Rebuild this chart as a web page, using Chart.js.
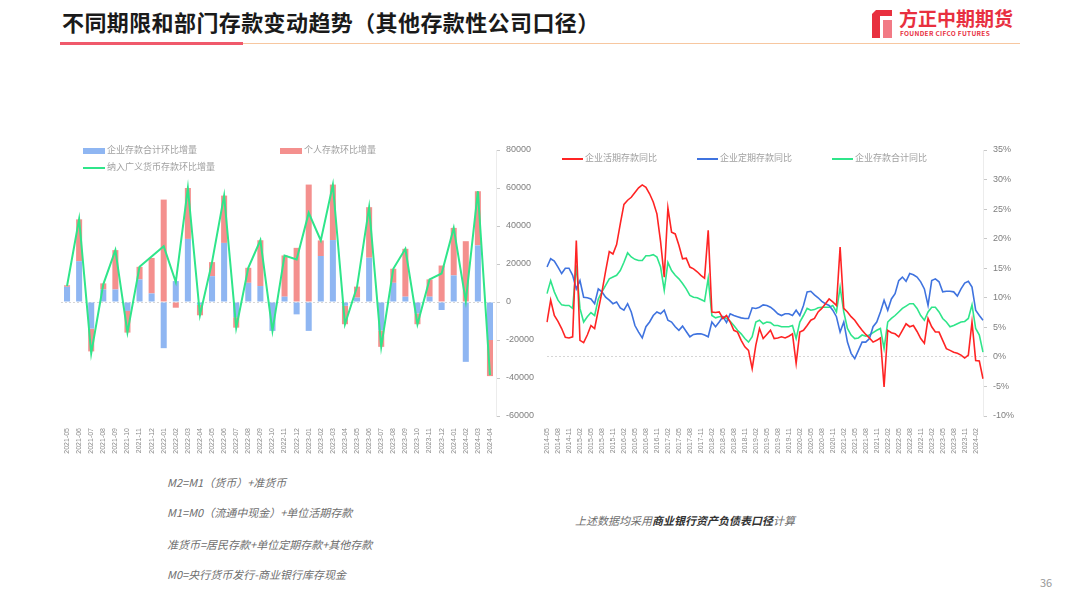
<!DOCTYPE html>
<html>
<head>
<meta charset="utf-8">
<script src="https://cdn.jsdelivr.net/npm/chart.js@4.4.1/dist/chart.umd.min.js"></script>
<style>
  body { margin: 0; width: 1080px; height: 608px; background: #fff; position: relative; overflow: hidden;
         font-family: "Noto Sans CJK SC", "Noto Sans", sans-serif; }
  .abs { position: absolute; }
  #title { left: 62px; top: 5px; font-size: 22px; font-weight: bold; color: #1a1a1a; letter-spacing: 0.4px; }
  #lineRed { left: 60px; top: 42px; width: 183px; height: 3px; background: #f0596b; }
  #lineOrange { left: 243px; top: 43px; width: 777px; height: 1px; background: #f7c7a0; }
  #logoIcon { left: 870px; top: 8px; width: 24px; height: 32px; }
  #logoText { left: 899px; top: 4px; font-size: 19px; font-weight: bold; color: #e8303f; }
  #logoSub { left: 900px; top: 28px; font-size: 6.5px; font-weight: bold; color: #e8303f; letter-spacing: 0.3px; }
  .leg { font-size: 9px; color: #a0a0a0; white-space: nowrap; }
  .box { display: inline-block; }
  .note { left: 167px; font-size: 11px; color: #6e6e6e; font-style: italic; white-space: nowrap; }
  #note5 { left: 575px; top: 512px; font-size: 11px; color: #6e6e6e; font-style: italic; white-space: nowrap; }
  #note5 b { color: #333; }
  #page { left: 1040px; top: 574px; font-size: 11px; color: #999; }
  canvas { position: absolute; }
</style>
</head>
<body>
<div id="title" class="abs">不同期限和部门存款变动趋势（其他存款性公司口径）</div>
<div id="lineRed" class="abs"></div>
<div id="lineOrange" class="abs"></div>
<svg id="logoIcon" class="abs" viewBox="0 0 24 32">
  <path d="M6 2 L22 2 L22 8 L10 8 L10 30 L2 30 L2 6 Z" fill="#e8303f"/>
  <path d="M13 12 L22 12 L22 30 L13 30 Z" fill="#f27a85"/>
</svg>
<div id="logoText" class="abs">方正中期期货</div>
<div id="logoSub" class="abs">FOUNDER CIFCO FUTURES</div>

<canvas id="leftChart" width="490" height="340" style="left:55px;top:130px"></canvas>
<canvas id="rightChart" width="490" height="340" style="left:540px;top:130px"></canvas>

<!-- left legend -->
<div class="abs leg" style="left:83px;top:143px"><span class="box" style="width:22px;height:6px;background:#8fb6f2;vertical-align:middle"></span> 企业存款合计环比增量</div>
<div class="abs leg" style="left:280px;top:143px"><span class="box" style="width:22px;height:6px;background:#f4908e;vertical-align:middle"></span> 个人存款环比增量</div>
<div class="abs leg" style="left:83px;top:160px"><span class="box" style="width:22px;height:2px;background:#2fe58a;vertical-align:middle"></span> 纳入广义货币存款环比增量</div>
<!-- right legend -->
<div class="abs leg" style="left:562px;top:151px"><span class="box" style="width:21px;height:2px;background:#ff2424;vertical-align:middle"></span> 企业活期存款同比</div>
<div class="abs leg" style="left:697px;top:151px"><span class="box" style="width:21px;height:2px;background:#3f73df;vertical-align:middle"></span> 企业定期存款同比</div>
<div class="abs leg" style="left:832px;top:151px"><span class="box" style="width:21px;height:2px;background:#2fe58a;vertical-align:middle"></span> 企业存款合计同比</div>

<div class="abs note" style="top:474px">M2=M1（货币）+准货币</div>
<div class="abs note" style="top:504px">M1=M0（流通中现金）+单位活期存款</div>
<div class="abs note" style="top:536px">准货币=居民存款+单位定期存款+其他存款</div>
<div class="abs note" style="top:566px">M0=央行货币发行-商业银行库存现金</div>
<div id="note5" class="abs">上述数据均采用<b>商业银行资产负债表口径</b>计算</div>
<div id="page" class="abs">36</div>

<script>
// ---------- Left chart data (monthly change) ----------
const leftMonths = [
  '2021-05','2021-06','2021-07','2021-08','2021-09','2021-10','2021-11','2021-12',
  '2022-01','2022-02','2022-03','2022-04','2022-05','2022-06','2022-07','2022-08',
  '2022-09','2022-10','2022-11','2022-12','2023-01','2023-02','2023-03','2023-04',
  '2023-05','2023-06','2023-07','2023-08','2023-09','2023-10','2023-11','2023-12',
  '2024-01','2024-02','2024-03','2024-04'
];
const corpChange = [
  8000, 21500, -14000, 6600, 6600, -4700, 11900, 4500,
  -24300, 11000, 33200, -1500, 13600, 31100, -8000, 10100,
  8400, -15200, 2800, -6500, -15200, 24200, 32600, -2000,
  2300, 23300, -15000, 10100, 2800, -6000, 2800, -4200,
  14000, -31500, 29800, -20000
];
const personalChange = [
  800, 22000, -12000, 3200, 20700, -11400, 6600, 18700,
  53900, -3000, 26800, -5500, 7400, 24900, -5500, 7900,
  24100, 0, 21700, 28500, 61800, 8200, 29200, -9700,
  5800, 26600, -8600, 7400, 25200, -5700, 9100, 19200,
  25000, 32000, 28500, -19000
];
const m2DepositChange = [
  8400, 43700, -27000, 9300, 27300, -16000, 18500, 24000,
  29400, 10500, 60000, -7000, 21000, 56000, -13600, 18000,
  32500, -15200, 24500, 22400, 46900, 32400, 61800, -11700,
  8000, 49900, -23600, 17500, 28000, -11700, 11900, 15000,
  39000, 500, 58300, -38500
];
const leftTicks = [-60000, -40000, -20000, 0, 20000, 40000, 60000, 80000];

// ---------- Right chart data (YoY %) ----------
const rightMonths = [];
for (let y = 2014; y <= 2024; y++) {
  for (let m = 1; m <= 12; m++) {
    if ((y === 2014 && m < 5) || (y === 2024 && m > 4)) continue;
    rightMonths.push(y + '-' + String(m).padStart(2, '0'));
  }
}
const demandYoY = [
  5.9, 9.6, 7.0, 6.0, 4.8, 3.3, 3.2, 3.4, 19.7, 2.8, 2.4, 3.7,
  5.3, 4.8, 7.9, 11.0, 14.5, 17.8, 17.4, 19.0, 22.5, 25.8, 26.5, 27.0,
  27.8, 28.6, 29.1, 28.7, 27.6, 26.2, 24.2, 19.5, 13.5, 25.2, 21.1, 20.8,
  18.9, 16.6, 16.7, 15.2, 14.9, 14.4, 13.8, 13.3, 21.4, 7.6, 7.5, 7.6,
  6.5, 7.0, 5.9, 4.5, 4.2, 2.8, 1.7, 1.1, -2.0, 2.0, 4.8, 3.1,
  3.8, 4.5, 3.1, 3.2, 3.4, 3.2, 3.5, 3.9, -1.1, 4.2, 4.5, 5.3,
  6.2, 6.5, 7.6, 8.2, 9.0, 9.8, 9.3, 8.7, 18.6, 8.2, 7.6, 6.8,
  6.2, 5.3, 4.5, 3.8, 3.2, 2.5, 2.8, 3.2, -5.1, 4.5, 4.1, 3.9,
  3.4, 4.5, 5.6, 5.1, 5.3, 4.3, 3.1, 2.3, 6.5, 5.1, 4.2, 4.2,
  2.8, 1.4, 1.1, 0.8, 0.6, 0.3, -0.2, 0.3, 5.9, -0.6, -0.7, -3.7
];
const timeYoY = [
  15.2, 16.6, 16.2, 15.2, 14.1, 15.0, 15.0, 13.8, 11.5, 12.9, 10.1, 10.0,
  9.8, 9.0, 11.5, 11.0, 10.1, 9.6, 9.0, 9.3, 8.3, 7.9, 9.0, 7.6,
  5.3, 4.2, 3.2, 5.1, 5.9, 7.0, 7.6, 7.3, 7.9, 6.2, 5.9, 5.1,
  4.5, 5.2, 4.3, 3.4, 3.8, 3.9, 3.9, 3.7, 3.4, 5.9, 5.1, 5.9,
  6.8, 5.8, 7.3, 7.0, 6.8, 6.6, 6.5, 6.5, 8.3, 8.2, 8.4, 8.8,
  8.7, 8.4, 7.9, 7.3, 7.0, 7.3, 7.3, 7.0, 7.9, 7.0, 8.7, 11.0,
  11.1, 10.5, 10.0, 9.4, 9.0, 8.7, 7.9, 6.8, 4.2, 5.9, 2.5, 0.6,
  -0.3, 1.1, 2.5, 2.5, 3.1, 5.1, 5.9, 7.6, 9.6, 7.9, 9.8, 10.7,
  12.9, 13.5, 12.8, 14.1, 13.9, 13.5, 12.7, 11.5, 8.7, 12.9, 13.2, 12.7,
  11.0, 11.1, 11.1, 11.0, 10.3, 11.5, 12.5, 12.8, 11.8, 7.9, 7.0, 6.2
];
const totalYoY = [
  10.7, 12.9, 11.0, 9.6, 8.8, 8.7, 8.7, 8.2, 15.5, 8.2, 5.9, 6.8,
  7.5, 7.0, 9.8, 11.0, 12.1, 13.2, 13.5, 13.8, 14.6, 16.0, 17.6, 16.9,
  16.5, 16.3, 16.3, 17.1, 17.1, 17.3, 16.9, 15.2, 11.3, 16.0, 14.6, 13.8,
  13.2, 12.4, 11.5, 10.4, 10.1, 10.0, 9.7, 9.4, 13.3, 7.0, 6.6, 6.8,
  6.8, 6.5, 6.0, 5.3, 4.5, 3.9, 3.1, 2.5, 3.4, 5.9, 6.2, 5.6,
  5.9, 5.8, 5.3, 5.3, 5.1, 5.1, 5.1, 5.3, 3.1, 5.9, 7.0, 8.2,
  7.9, 8.0, 8.3, 8.4, 8.4, 8.4, 8.7, 7.6, 11.8, 7.6, 4.8, 3.7,
  3.1, 3.2, 3.7, 3.5, 3.7, 4.1, 4.5, 4.8, 1.4, 5.9, 6.5, 7.0,
  7.6, 8.2, 8.6, 9.0, 9.0, 8.2, 7.0, 6.2, 7.6, 8.4, 8.4, 7.6,
  6.5, 5.9, 5.1, 5.3, 5.6, 5.9, 6.0, 6.5, 8.8, 4.8, 3.7, 0.8
];
const rightTicks = [-10, -5, 0, 5, 10, 15, 20, 25, 30, 35];

// ---------- Shared axis helpers ----------
const tickFont = { family: 'Liberation Sans, Arial, sans-serif', size: 9 };
const zeroGrid = {
  color: ctx => (ctx.tick && ctx.tick.value === 0 ? '#d6d6d6' : 'rgba(0,0,0,0)'),
  tickColor: '#c8c8c8',
  tickLength: 4,
  lineWidth: 1
};

function fixedWidth(w) { return scale => { scale.width = w; }; }
function fixedHeight(h) { return scale => { scale.height = h; }; }

// ---------- Left chart ----------
new Chart(document.getElementById('leftChart'), {
  data: {
    labels: leftMonths,
    datasets: [
      { type: 'line', label: '纳入广义货币存款环比增量', data: m2DepositChange, stack: 'm2',
        borderColor: '#2fe58a', borderWidth: 2, pointRadius: 0, tension: 0, order: 0 },
      { type: 'bar', label: '企业存款合计环比增量', data: corpChange, stack: 'dep',
        backgroundColor: '#8fb6f2', order: 1, barPercentage: 0.5, categoryPercentage: 1 },
      { type: 'bar', label: '个人存款环比增量', data: personalChange, stack: 'dep',
        backgroundColor: '#f4908e', order: 1, barPercentage: 0.5, categoryPercentage: 1 }
    ]
  },
  options: {
    responsive: false,
    animation: false,
    layout: { padding: { left: 6, top: 20, right: 0, bottom: 0 } },
    plugins: { legend: { display: false }, tooltip: { enabled: false } },
    scales: {
      x: {
        stacked: true,
        grid: { display: false },
        border: { display: false },
        afterFit: fixedHeight(54),
        ticks: { autoSkip: false, minRotation: 90, maxRotation: 90, padding: 4,
                 color: '#8c8c8c', font: { family: 'Liberation Sans, Arial, sans-serif', size: 7 } }
      },
      y: {
        stacked: true,
        position: 'right',
        min: -60000, max: 80000,
        afterFit: fixedWidth(49),
        afterBuildTicks: scale => { scale.ticks = leftTicks.map(v => ({ value: v })); },
        border: { display: true, color: '#ececec', dash: [2, 2] },
        grid: zeroGrid,
        ticks: { color: '#7f7f7f', font: tickFont, padding: 6, callback: v => String(v) }
      }
    }
  }
});

// ---------- Right chart ----------
new Chart(document.getElementById('rightChart'), {
  type: 'line',
  data: {
    labels: rightMonths,
    datasets: [
      { label: '企业活期存款同比', data: demandYoY, borderColor: '#ff2424',
        borderWidth: 1.6, pointRadius: 0, tension: 0 },
      { label: '企业定期存款同比', data: timeYoY, borderColor: '#3f73df',
        borderWidth: 1.6, pointRadius: 0, tension: 0 },
      { label: '企业存款合计同比', data: totalYoY, borderColor: '#2fe58a',
        borderWidth: 1.6, pointRadius: 0, tension: 0 }
    ]
  },
  options: {
    responsive: false,
    animation: false,
    layout: { padding: { left: 7, top: 20, right: 0, bottom: 0 } },
    plugins: { legend: { display: false }, tooltip: { enabled: false } },
    scales: {
      x: {
        grid: { display: false },
        border: { display: false },
        afterFit: fixedHeight(54),
        ticks: { autoSkip: false, minRotation: 90, maxRotation: 90, padding: 4,
                 color: '#8c8c8c', font: { family: 'Liberation Sans, Arial, sans-serif', size: 7 },
                 callback: (v, i) => (i % 3 === 0 ? rightMonths[i] : null) }
      },
      y: {
        position: 'right',
        min: -10, max: 35,
        afterFit: fixedWidth(47),
        afterBuildTicks: scale => { scale.ticks = rightTicks.map(v => ({ value: v })); },
        border: { display: true, color: '#ececec', dash: [2, 2] },
        grid: zeroGrid,
        ticks: { color: '#7f7f7f', font: tickFont, padding: 6, callback: v => v + '%' }
      }
    }
  }
});
</script>
</body>
</html>
